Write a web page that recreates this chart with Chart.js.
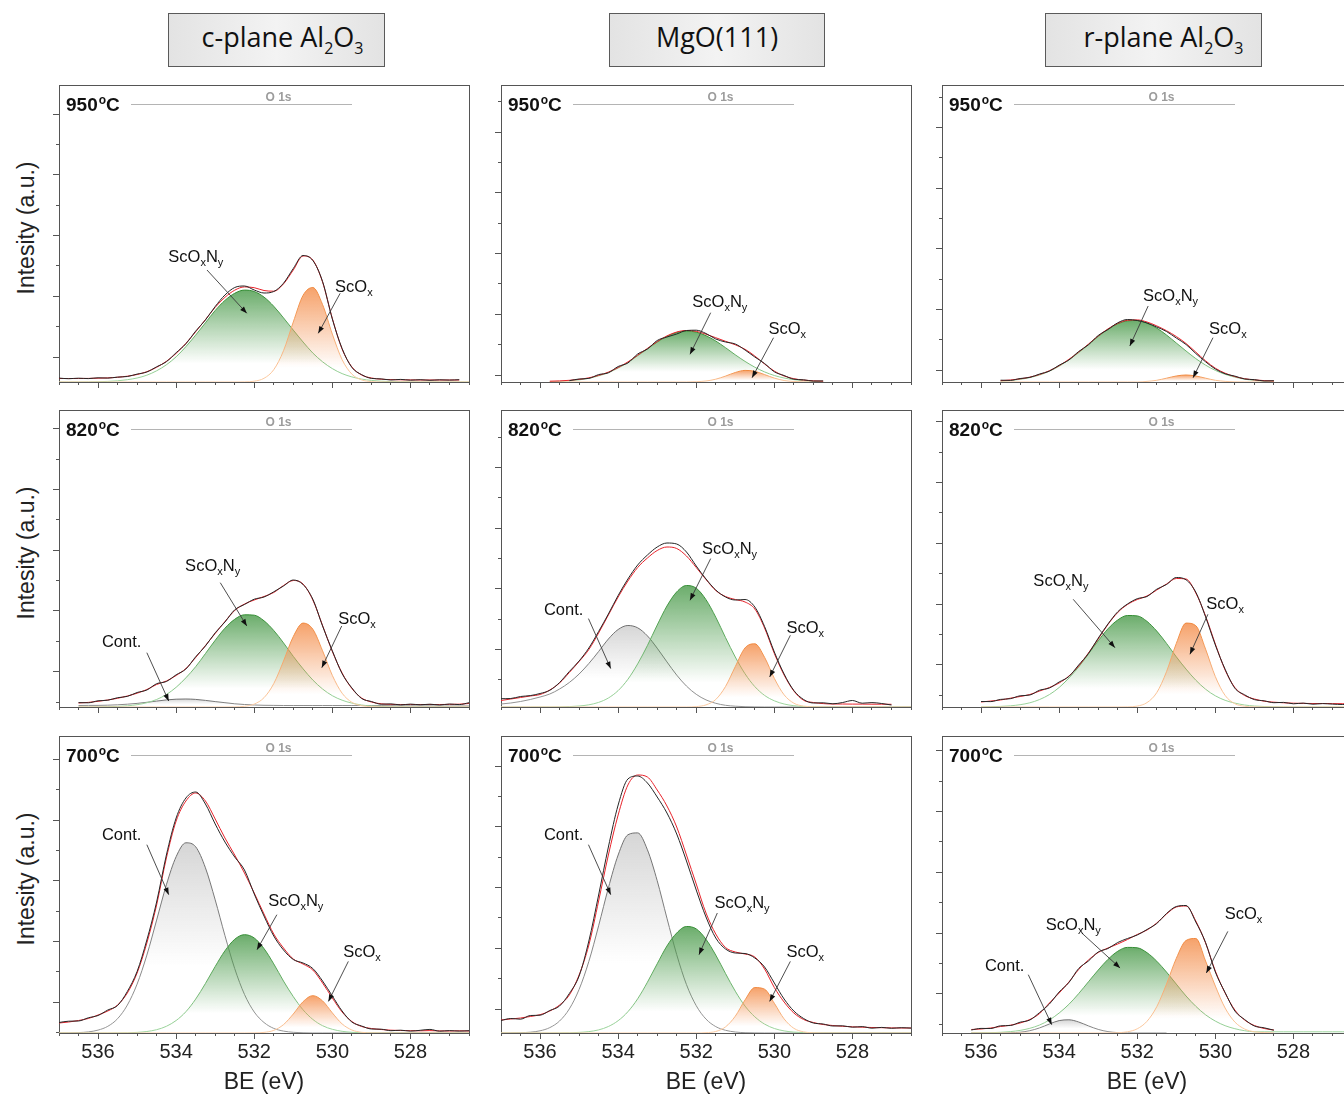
<!DOCTYPE html>
<html><head><meta charset="utf-8">
<script src="https://cdn.jsdelivr.net/npm/chart.js@4.4.1/dist/chart.umd.min.js"></script>
<style>
html,body{margin:0;padding:0;background:#fff;}
body{width:1344px;height:1094px;overflow:hidden;position:relative;font-family:"Liberation Sans",Arial,sans-serif;color:#111;}
.hdr{position:absolute;top:13px;height:54px;border:1px solid #5a5a5a;box-sizing:border-box;background:linear-gradient(90deg,#e3e3e3,#f3f3f3 50%,#e3e3e3);font-family:"Open Sans",sans-serif;font-size:27px;color:#111;white-space:nowrap;}
.hdr span.t{position:absolute;top:4px;}
.hdr sub{font-size:16px;vertical-align:-7px;line-height:0;}
.ytitle{position:absolute;font-size:23px;color:#222;white-space:nowrap;transform:translate(-50%,-50%) rotate(-90deg);}
.xtitle{position:absolute;font-size:23px;color:#222;white-space:nowrap;transform:translate(-50%,-50%);}
.temp{position:absolute;font-weight:bold;font-size:19px;line-height:19px;color:#111;white-space:nowrap;}
.temp .o{font-size:12px;position:relative;top:-7px;margin-left:1px;}
.o1s{position:absolute;height:0;border-top:1px solid #b4b4b4;}
.o1slab{position:absolute;font-weight:bold;font-size:12px;line-height:12px;color:#9c9c9c;transform:translateX(-50%);white-space:nowrap;}
canvas{position:absolute;}
</style>
</head><body>
<script>
// ---------- shared binding-energy grid (eV) ----------
const BE = [537,536.75,536.5,536.25,536,535.75,535.5,535.25,535,534.75,534.5,534.25,534,533.75,533.5,533.25,533,532.75,532.5,532.25,532,531.75,531.5,531.25,531,530.75,530.5,530.25,530,529.75,529.5,529.25,529,528.75,528.5,528.25,528,527.75,527.5,527.25,527,526.75,526.5];
const _ = null;
const xMajorTicks = [536,534,532,530,528];
const xMinorTicks = [537,536.5,536,535.5,535,534.5,534,533.5,533,532.5,532,531.5,531,530.5,530,529.5,529,528.5,528,527.5,527,526.5];
const columnTitles = ['c-plane Al<sub>2</sub>O<sub>3</sub>','MgO(111)','r-plane Al<sub>2</sub>O<sub>3</sub>'];
const temperatures = ['950','820','700'];

// ---------- c-plane Al2O3, 950 C ----------
const cPlane950_exp = [3.9,3.3,3.8,3.4,4.2,3.9,4.9,5.5,7.9,10.0,15.2,20.3,29.3,38.2,50.9,62.0,75.5,87.0,94.5,96.0,92.0,89.0,90.5,98.8,113.5,126.5,121.5,100.5,63.0,33.5,14.6,7.4,3.6,3.1,2.0,2.6,1.8,2.3,1.7,2.2,1.9,2.3,_];
const cPlane950_fit = [3.5,3.5,3.5,3.6,3.8,4.1,4.7,5.8,7.5,10.3,14.7,20.7,28.6,38.7,50.2,62.4,74.7,84.7,91.8,95.1,94.3,91.5,90.8,98.1,112.0,126.0,122.0,99.9,63.5,32.9,15.1,7.0,4.0,2.8,2.4,2.2,2.1,2.0,2.0,2.0,2.0,2.0,_];
const cPlane950_ScOxNy = [0,0,0,0.1,0.3,0.6,1.2,2.3,4.0,6.8,11.2,17.2,25.2,35.4,46.9,59.2,71.5,81.6,88.7,91.9,90.5,84.9,75.7,64.1,51.9,40.0,29.0,20.2,13.4,8.4,5.1,2.9,1.6,0.8,0.4,0.2,0.1,0,0,0,0,0,0];
const cPlane950_ScOx = [0,0,0,0,0,0,0,0,0,0,0,0,0,0,0,0,0,0,0,0.1,0.8,3.7,12.3,31.3,60.0,86.6,94.5,77.4,47.9,22.4,7.9,2.1,0.4,0,0,0,0,0,0,0,0,0,0];

// ---------- MgO(111), 950 C ----------
const mgo950_exp = [_,_,_,_,_,_,_,1.3,3.0,3.6,7.4,9.2,15.5,19.0,28.0,33.0,41.5,45.0,48.0,51.5,51.8,48.5,43.0,40.0,38.0,32.0,25.0,18.5,10.2,6.5,2.8,2.2,0.9,1.1,_,_,_,_,_,_,_,_,_];
const mgo950_fit = [_,_,_,_,_,0.8,1.1,1.7,2.6,4.2,6.6,9.9,14.5,20.1,26.8,33.6,40.4,46.1,50.0,51.5,50.7,47.8,44.3,40.7,37.2,32.7,26.0,18.0,10.9,6.0,3.3,1.9,1.2,0.8,_,_,_,_,_,_,_,_,_];
const mgo950_ScOxNy = [_,_,_,_,_,0.3,0.6,1.2,2.1,3.7,6.1,9.4,14.0,19.6,26.3,33.1,39.9,45.6,49.5,51.0,49.9,46.3,41.0,34.3,27.2,20.6,14.8,10.1,6.5,4.0,2.3,1.3,0.7,0.3,_,_,_,_,_,_,_,_,_];
const mgo950_ScOx = [_,_,_,_,_,0,0,0,0,0,0,0,0,0,0,0,0,0,0,0,0.3,1.0,2.8,5.9,9.5,11.6,10.7,7.4,3.9,1.5,0.5,0.1,0,0,_,_,_,_,_,_,_,_,_];

// ---------- r-plane Al2O3, 950 C ----------
const rPlane950_exp = [_,_,_,_,_,_,1.8,1.6,3.5,4.6,8.0,10.9,16.8,22.0,30.5,37.2,46.5,52.5,59.2,62.5,61.5,59.0,55.0,50.5,44.0,37.5,28.5,20.2,13.0,8.2,5.9,3.0,2.4,1.0,1.3,_,_,_,_,_,_,_,_];
const rPlane950_fit = [_,_,_,_,_,_,1.3,2.0,3.1,4.9,7.5,11.3,16.3,22.7,29.9,37.9,46.0,53.1,58.6,61.7,62.1,60.0,56.1,51.3,45.5,38.5,29.9,21.2,13.8,8.8,5.4,3.3,2.1,1.4,1.0,_,_,_,_,_,_,_,_];
const rPlane950_ScOxNy = [_,_,_,_,_,_,0.8,1.5,2.6,4.4,7.0,10.8,15.8,22.2,29.4,37.4,45.5,52.6,58.1,61.2,61.5,58.9,53.9,47.0,39.0,31.0,23.4,16.9,11.6,7.7,4.8,2.8,1.6,0.9,0.5,_,_,_,_,_,_,_,_];
const rPlane950_ScOx = [_,_,_,_,_,_,0,0,0,0,0,0,0,0,0,0,0,0,0,0,0,0.6,1.7,3.8,6.0,7.0,6.0,3.8,1.7,0.6,0.1,0,0,0,0,_,_,_,_,_,_,_,_];

// ---------- c-plane Al2O3, 820 C ----------
const cPlane820_exp = [_,_,4.4,4.2,6.2,6.8,9.3,10.6,14.5,17.0,23.3,25.5,32.2,38.0,50.2,61.0,74.2,85.0,97.2,102.5,107.8,110.0,115.2,121.0,127.0,122.5,107.8,81.0,56.2,33.4,19.1,8.5,5.5,2.8,3.1,2.1,2.9,2.2,2.8,2.0,3.0,2.4,4.3];
const cPlane820_fit = [_,_,4.0,4.6,5.7,7.0,8.7,11.0,13.8,17.5,22.5,26.0,31.5,38.5,49.5,61.5,73.5,85.5,96.5,103.0,107.0,110.5,114.5,121.5,126.5,123.0,107.0,81.5,55.5,34.0,18.5,9.0,5.0,3.2,2.6,2.5,2.5,2.5,2.5,2.5,2.6,2.8,3.5];
const cPlane820_ScOxNy = [_,_,0,0,0.1,0.3,0.6,1.2,2.3,4.3,7.5,12.5,19.7,29.2,40.3,53.4,66.7,78.8,87.7,92.2,91.8,86.2,76.5,64.1,50.6,38.2,27.0,18.0,11.3,6.8,3.9,2.0,1.0,0.5,0.2,0.1,0,0,0,0,0,0,0];
const cPlane820_ScOx = [_,_,0,0,0,0,0,0,0,0,0,0,0,0,0,0,0,0,0.1,0.7,2.9,9.3,23.4,46.0,70.4,83.9,77.8,56.2,31.6,13.8,4.7,1.3,0.3,0,0,0,0,0,0,0,0,0,0];
const cPlane820_Cont = [_,_,1.5,1.6,1.6,1.8,2.2,2.8,3.6,4.7,5.9,7.1,7.8,8.0,7.6,6.6,5.4,4.3,3.2,2.5,2.0,1.7,1.6,1.5,1.5,1.5,1.5,1.5,1.5,1.5,1.5,1.5,1.5,1.4,1.3,1.2,1.2,1.1,1.1,1.0,1.0,1.0,1.0];

// ---------- MgO(111), 820 C ----------
const mgo820_exp = [8.3,8.5,10.5,11.4,13.5,16.7,24.5,35.5,46.0,59.0,75.5,93.0,111.5,128.0,142.0,152.0,160.0,164.0,163.0,155.0,141.0,128.0,117.0,110.0,107.0,107.5,100.0,80.5,55.0,33.0,16.5,7.5,4.0,4.2,3.2,4.5,6.5,3.8,4.4,3.5,2.0,_,_];
const mgo820_fit = [6.5,8.0,9.5,11.0,12.5,17.0,24.0,34.5,45.5,57.5,74.0,92.0,110.0,126.0,139.5,149.0,156.5,160.0,158.5,151.0,139.5,127.5,116.5,110.5,107.5,105.0,98.0,79.0,53.5,32.0,16.0,6.7,4.5,3.4,3.0,3.0,2.9,2.9,2.8,2.8,2.7,_,_];
const mgo820_Cont = [3.0,4.0,5.5,7.5,10.0,13.0,18.0,24.5,33.0,43.5,55.5,68.0,77.5,81.5,79.2,71.1,58.8,45.1,31.9,20.9,12.7,7.1,3.7,1.7,0.8,0.3,0.1,0,0,0,0,0,0,0,0,0,0,0,0,0,0,0,0];
const mgo820_ScOxNy = [0,0,0,0,0,0,0.1,0.4,1.0,2.2,4.6,9.0,16.4,27.7,43.1,61.5,81.9,101.0,115.1,121.5,118.8,107.3,89.8,69.4,50.0,33.2,20.4,11.6,6.2,3.0,1.3,0.5,0.2,0,0,0,0,0,0,0,0,0,0];
const mgo820_ScOx = [0,0,0,0,0,0,0,0,0,0,0,0,0,0,0,0,0,0,0,0,0.4,2.1,7.5,20.5,40.4,59.1,63.2,49.7,28.6,12.2,3.8,0.9,0.2,0,0,0,0,0,0,0,0,0,0];

// ---------- r-plane Al2O3, 820 C ----------
const rPlane820_exp = [_,_,_,_,5.5,5.4,7.6,8.3,11.2,12.0,16.8,19.0,25.0,30.5,42.0,53.5,68.8,83.0,95.2,103.0,108.3,110.5,117.8,122.5,129.5,127.2,114.8,90.2,62.0,37.8,18.8,12.2,7.4,6.2,4.3,4.6,3.2,3.9,2.8,3.4,2.9,2.5,2.6];
const rPlane820_fit = [_,_,_,_,5.0,6.0,7.0,8.8,10.5,12.5,16.0,19.5,24.0,31.0,41.0,54.0,68.0,82.5,94.5,102.5,107.5,111.0,117.0,123.0,128.5,128.0,114.0,91.0,63.0,37.0,19.5,11.5,8.0,5.8,4.8,4.2,3.8,3.6,3.5,3.5,3.4,3.3,3.3];
const rPlane820_ScOxNy = [_,_,_,_,0.1,0.3,0.6,1.2,2.3,4.2,7.5,12.4,19.5,29.0,40.0,53.0,66.2,78.2,87.0,91.5,91.1,85.6,75.9,63.6,50.2,37.9,26.8,17.8,11.2,6.7,3.9,2.0,1.0,0.5,0.2,0.1,0,0,0,0,0,0,0];
const rPlane820_ScOx = [_,_,_,_,0,0,0,0,0,0,0,0,0,0,0,0,0,0,0,0.1,0.9,4.4,14.4,35.3,63.5,83.9,81.3,57.9,30.4,11.6,3.3,0.7,0.1,0,0,0,0,0,0,0,0,0,0];

// ---------- c-plane Al2O3, 700 C ----------
const cPlane700_exp = [10.5,11.8,12.0,15.2,17.5,23.0,27.5,41.5,61.5,93.0,131.0,178.0,215.0,235.0,241.0,229.0,209.0,191.0,176.0,163.0,139.0,117.0,97.0,83.0,73.5,70.0,64.5,52.0,37.0,22.0,11.0,7.0,4.0,3.8,2.3,2.8,1.9,2.7,3.6,1.8,2.4,1.9,2.3];
const cPlane700_fit = [10.0,11.0,12.5,14.5,18.0,22.0,28.0,40.0,60.0,90.0,128.0,175.0,212.0,232.0,240.0,232.0,214.0,195.0,178.0,160.0,140.0,119.0,99.0,85.0,74.0,69.0,63.0,50.0,35.0,21.0,11.5,6.5,4.5,3.5,2.8,2.5,2.3,2.2,2.4,2.1,2.0,2.2,2.0];
const cPlane700_Cont = [0,0.1,0.4,1.1,2.9,6.7,14.3,27.9,48.9,77.9,112.9,148.2,176.3,190.2,186.2,165.2,133.1,97.4,64.4,38.6,21.0,10.5,4.6,1.9,0.7,0.2,0,0,0,0,0,0,0,0,0,0,0,0,0,0,0,0,0];
const cPlane700_ScOxNy = [0,0,0,0,0,0,0.1,0.2,0.6,1.5,3.3,6.7,12.5,21.3,33.9,49.5,66.5,82.2,93.7,98.3,95.0,84.4,69.1,51.9,36.4,23.2,13.6,7.3,3.7,1.7,0.7,0.3,0.1,0,0,0,0,0,0,0,0,0,0];
const cPlane700_ScOx = [0,0,0,0,0,0,0,0,0,0,0,0,0,0,0,0,0,0,0,0,0.1,0.6,2.6,8.4,19.0,31.3,37.3,32.1,20.1,9.1,3.0,0.7,0.1,0,0,0,0,0,0,0,0,0,0];

// ---------- MgO(111), 700 C ----------
const mgo700_exp = [12.5,14.5,13.8,17.5,17.8,22.5,27.0,39.5,57.0,92.0,138.0,186.0,228.0,254.0,257.0,250.0,236.0,220.0,199.0,172.0,143.0,116.0,95.0,84.0,80.0,79.5,75.0,66.0,50.0,34.0,22.0,14.5,10.0,9.0,7.0,7.2,5.8,6.4,4.8,5.6,4.7,5.3,4.9];
const mgo700_fit = [13.0,14.0,15.0,16.5,18.3,22.0,28.0,38.0,58.0,88.0,132.0,178.0,218.0,248.0,258.0,256.0,243.0,227.0,206.0,178.0,149.0,120.0,99.0,85.5,81.0,79.0,76.0,64.0,45.5,31.0,20.0,13.5,10.5,8.5,7.5,6.7,6.2,5.8,5.5,5.3,5.1,5.0,5.0];
const mgo700_Cont = [0,0.1,0.3,0.8,2.2,5.4,12.0,24.1,43.6,71.6,107.2,145.1,178.0,198.2,200.1,183.2,152.3,114.8,78.4,48.4,27.3,13.9,6.4,2.7,1.0,0.3,0.1,0,0,0,0,0,0,0,0,0,0,0,0,0,0,0,0];
const mgo700_ScOxNy = [0,0,0,0,0,0,0.1,0.2,0.6,1.4,3.1,6.5,12.3,21.3,34.2,50.8,69.2,87.0,100.0,106.5,104.1,93.7,77.9,59.5,41.8,26.9,16.2,8.9,4.5,2.1,0.9,0.4,0.1,0,0,0,0,0,0,0,0,0,0];
const mgo700_ScOx = [0,0,0,0,0,0,0,0,0,0,0,0,0,0,0,0,0,0,0,0,0,0.3,1.5,6.1,16.8,33.1,45.4,43.8,29.7,14.1,4.7,1.1,0.2,0,0,0,0,0,0,0,0,0,0];

// ---------- r-plane Al2O3, 700 C ----------
const rPlane700_exp = [_,_,_,3.0,4.6,4.5,7.2,7.5,10.8,13.0,20.5,29.0,41.0,50.5,64.5,72.0,81.0,84.5,90.5,94.5,98.0,103.5,109.5,119.5,126.5,127.5,111.0,90.5,61.0,40.5,22.0,13.5,7.0,5.2,2.8,_,_,_,_,_,_,_,_];
const rPlane700_fit = [_,_,_,3.5,4.0,5.0,6.5,7.8,10.0,13.5,19.5,30.0,40.0,51.0,63.5,73.0,80.5,85.0,89.0,93.5,98.5,103.0,110.0,119.0,126.0,127.0,112.0,90.0,62.0,40.0,23.0,13.0,7.5,4.5,3.0,_,_,_,_,_,_,_,_];
const rPlane700_Cont = [_,_,_,0,0,0,0,0.2,0.8,2.3,5.1,9.0,12.4,13.2,11.0,7.1,3.6,1.4,0.4,0.1,0,0,0,0,_,_,_,_,_,_,_,_,_,_,_,_,_,_,_,_,_,_,_];
const rPlane700_ScOxNy = [_,_,_,0.1,0.2,0.3,0.7,1.4,2.6,4.7,8.0,13.0,20.0,28.7,39.4,51.2,62.9,73.6,81.7,85.6,85.2,80.3,71.8,60.9,48.9,37.0,26.7,18.2,11.9,7.3,4.3,2.3,1.2,1.2,1.2,1.2,1.2,1.2,1.2,1.2,1.2,1.2,1.2];
const rPlane700_ScOx = [_,_,_,0,0,0,0,0,0,0,0,0,0,0,0,0,0,0,0.3,1.2,4.2,11.7,26.3,49.0,74.6,92.5,94.5,72.0,47.0,25.0,11.0,4.0,1.2,0.4,0.1,_,_,_,_,_,_,_,_];

// ---------- peak labels: text anchor, arrow start, arrow tip (BE eV, intensity) ----------
const cPlane950_notes = [{t:'ScOxNy',at:[534.2,120],from:[533.21,112],to:[532.19,68.7]},{t:'ScOx',at:[529.93,90],from:[529.8,88.7],to:[530.36,48.7]}];
const mgo950_notes = [{t:'ScOxNy',at:[532.1,75],from:[531.63,69.3],to:[532.16,27.7]},{t:'ScOx',at:[530.15,48],from:[530.02,44.3],to:[530.57,4.3]}];
const rPlane950_notes = [{t:'ScOxNy',at:[531.85,81],from:[531.72,76],to:[532.19,36]},{t:'ScOx',at:[530.16,47.7],from:[530.06,44.3],to:[530.57,4.3]}];
const cPlane820_notes = [{t:'ScOxNy',at:[533.77,136],from:[532.87,124.3],to:[532.19,81]},{t:'ScOx',at:[529.85,82.7],from:[529.76,81],to:[530.27,39.3]},{t:'Cont.',at:[535.9,60],from:[534.75,54.3],to:[534.19,6]}];
const mgo820_notes = [{t:'ScOxNy',at:[531.85,152.7],from:[531.63,148.4],to:[532.16,106.7]},{t:'ScOx',at:[529.69,74.4],from:[529.59,71.7],to:[530.12,30]},{t:'Cont.',at:[535.9,91.7],from:[534.76,88.4],to:[534.19,38.4]}];
const rPlane820_notes = [{t:'ScOxNy',at:[534.66,121],from:[533.64,107.7],to:[532.57,59.3]},{t:'ScOx',at:[530.23,97.7],from:[530.19,92.7],to:[530.65,52.7]}];
const cPlane700_notes = [{t:'Cont.',at:[535.9,193.3],from:[534.75,188.3],to:[534.19,138.3]},{t:'ScOxNy',at:[531.64,126.6],from:[531.42,118.3],to:[531.93,83.3]},{t:'ScOx',at:[529.72,76],from:[529.59,71.6],to:[530.1,31.6]}];
const mgo700_notes = [{t:'Cont.',at:[535.9,193.3],from:[534.76,188.3],to:[534.19,138.3]},{t:'ScOxNy',at:[531.53,125],from:[531.46,120],to:[531.93,78.3]},{t:'ScOx',at:[529.69,76],from:[529.59,71.6],to:[530.12,31.6]}];
const rPlane700_notes = [{t:'Cont.',at:[535.9,61.6],from:[534.79,58.3],to:[534.19,8.3]},{t:'ScOxNy',at:[534.34,103.3],from:[533.42,100],to:[532.44,65]},{t:'ScOx',at:[529.76,114.3],from:[529.68,101.6],to:[530.23,60]}];

// ---------- panel table ----------
const PANELS = [
 {col:0,row:0,exp:cPlane950_exp,fit:cPlane950_fit,comps:{ScOx:cPlane950_ScOx,ScOxNy:cPlane950_ScOxNy},notes:cPlane950_notes,yStart:25},
 {col:1,row:0,exp:mgo950_exp,fit:mgo950_fit,comps:{ScOx:mgo950_ScOx,ScOxNy:mgo950_ScOxNy},notes:mgo950_notes,yStart:7},
 {col:2,row:0,exp:rPlane950_exp,fit:rPlane950_fit,comps:{ScOx:rPlane950_ScOx,ScOxNy:rPlane950_ScOxNy},notes:rPlane950_notes,yStart:11.7},
 {col:0,row:1,exp:cPlane820_exp,fit:cPlane820_fit,comps:{ScOx:cPlane820_ScOx,ScOxNy:cPlane820_ScOxNy,Cont:cPlane820_Cont},notes:cPlane820_notes,yStart:35.3},
 {col:1,row:1,exp:mgo820_exp,fit:mgo820_fit,comps:{ScOx:mgo820_ScOx,ScOxNy:mgo820_ScOxNy,Cont:mgo820_Cont},notes:mgo820_notes,yStart:57.4},
 {col:2,row:1,exp:rPlane820_exp,fit:rPlane820_fit,comps:{ScOx:rPlane820_ScOx,ScOxNy:rPlane820_ScOxNy},notes:rPlane820_notes,yStart:42.3},
 {col:0,row:2,exp:cPlane700_exp,fit:cPlane700_fit,comps:{ScOx:cPlane700_ScOx,ScOxNy:cPlane700_ScOxNy,Cont:cPlane700_Cont},notes:cPlane700_notes,yStart:30.7},
 {col:1,row:2,exp:mgo700_exp,fit:mgo700_fit,comps:{ScOx:mgo700_ScOx,ScOxNy:mgo700_ScOxNy,Cont:mgo700_Cont},notes:mgo700_notes,yStart:24},
 {col:2,row:2,exp:rPlane700_exp,fit:rPlane700_fit,comps:{ScOx:rPlane700_ScOx,ScOxNy:rPlane700_ScOxNy,Cont:rPlane700_Cont},notes:rPlane700_notes,yStart:39.3},
];

// ---------- layout / style ----------
const COL_LEFT=[59,501,942], ROW_TOP=[85,410,736], PW=410, PH=297, PADL=10, PADT=2, PADR=2;
const Y_MAJOR=60.7, Y_MINOR=30.35;
const AX='#555';
const STYLE = {
  ScOx:  {lineTop:'240,135,60', lineBot:'252,205,165', fill:'244,145,80', a:0.85, fade:0.85},
  ScOxNy:{lineTop:'50,140,50',  lineBot:'160,215,160', fill:'75,155,75',  a:0.82, fade:0.8},
  Cont:  {lineTop:'110,110,110',lineBot:'150,150,150', fill:'200,200,200',a:0.75, fade:0.65}
};
const LABEL_PARTS = {ScOxNy:[['ScO',0],['x',1],['N',0],['y',1]], ScOx:[['ScO',0],['x',1]], 'Cont.':[['Cont.',0]]};
Chart.defaults.font.family = '"Liberation Sans", Arial, sans-serif';
Chart.defaults.animation = false;

function pts(arr){ return BE.map((x,i)=>({x:x, y:arr[i]})); }
function peakSpan(ctx){
  const ch=ctx.chart, area=ch.chartArea;
  if(!area) return null;
  const ds=ch.data.datasets[ctx.datasetIndex];
  let mx=0; ds.data.forEach(p=>{ if(p.y!=null && p.y>mx) mx=p.y; });
  const top=ch.scales.y.getPixelForValue(mx), bot=ch.scales.y.getPixelForValue(0);
  if(!(bot>top+1)) return null;
  return {ch,top,bot};
}
function gradFill(s){
  return (ctx)=>{
    const k=peakSpan(ctx); if(!k) return 'rgba('+s.fill+',0)';
    const g=k.ch.ctx.createLinearGradient(0,k.top,0,k.bot);
    g.addColorStop(0,'rgba('+s.fill+','+s.a+')');
    g.addColorStop(s.fade,'rgba('+s.fill+',0)');
    g.addColorStop(1,'rgba('+s.fill+',0)');
    return g;
  };
}
function gradLine(s){
  return (ctx)=>{
    const k=peakSpan(ctx); if(!k) return 'rgb('+s.lineBot+')';
    const g=k.ch.ctx.createLinearGradient(0,k.top,0,k.bot);
    g.addColorStop(0,'rgb('+s.lineTop+')');
    g.addColorStop(1,'rgb('+s.lineBot+')');
    return g;
  };
}
const notePlugin = {
  id:'notes',
  afterDatasetsDraw(chart){
    const items=chart.options.plugins.notes.items||[];
    const xs=chart.scales.x, ys=chart.scales.y, c=chart.ctx;
    c.save();
    for(const n of items){
      const x1=xs.getPixelForValue(n.from[0]), y1=ys.getPixelForValue(n.from[1]);
      const x2=xs.getPixelForValue(n.to[0]), y2=ys.getPixelForValue(n.to[1]);
      c.strokeStyle='#3a3a3a'; c.lineWidth=0.9;
      c.beginPath(); c.moveTo(x1,y1); c.lineTo(x2,y2); c.stroke();
      const ang=Math.atan2(y2-y1,x2-x1), L=7, W=2.6;
      c.fillStyle='#111';
      c.beginPath(); c.moveTo(x2,y2);
      c.lineTo(x2-L*Math.cos(ang)+W*Math.sin(ang), y2-L*Math.sin(ang)-W*Math.cos(ang));
      c.lineTo(x2-L*Math.cos(ang)-W*Math.sin(ang), y2-L*Math.sin(ang)+W*Math.cos(ang));
      c.closePath(); c.fill();
      let x=xs.getPixelForValue(n.at[0]); const y=ys.getPixelForValue(n.at[1]);
      c.textBaseline='alphabetic'; c.textAlign='left'; c.fillStyle='#111';
      for(const [t,sub] of LABEL_PARTS[n.t]){
        c.font = sub ? '11px "Liberation Sans", Arial' : '16.5px "Liberation Sans", Arial';
        c.fillText(t, x, y+(sub?4:0));
        x += c.measureText(t).width;
      }
    }
    c.restore();
  }
};

function makePanel(p){
  const bottomRow = p.row===2;
  const B = bottomRow ? 36 : 8;
  const W = PADL+PW+PADR, H = PADT+PH+B;
  const cv=document.createElement('canvas');
  cv.width=W; cv.height=H;
  cv.style.left=(COL_LEFT[p.col]-PADL)+'px'; cv.style.top=(ROW_TOP[p.row]-PADT)+'px';
  cv.style.width=W+'px'; cv.style.height=H+'px';
  document.body.appendChild(cv);

  const datasets=[
    {data:pts(p.exp),borderColor:'#262626',borderWidth:1,fill:false},
    {data:pts(p.fit),borderColor:'#e8222a',borderWidth:1,fill:false},
  ];
  for(const k of ['ScOx','ScOxNy','Cont']){
    if(!p.comps[k]) continue;
    const s=STYLE[k];
    datasets.push({data:pts(p.comps[k]),borderColor:gradLine(s),borderWidth:1,fill:'origin',backgroundColor:gradFill(s)});
  }
  datasets.forEach(d=>{ d.xAxisID='x'; d.yAxisID='y'; d.pointRadius=0; d.cubicInterpolationMode='monotone'; d.spanGaps=false; });

  const yMaj=[], yMin=[];
  for(let v=p.yStart; v<=PH+0.01; v+=Y_MAJOR) yMaj.push({value:v});
  for(let v=p.yStart%Y_MINOR; v<=PH+0.01; v+=Y_MINOR) yMin.push({value:v});

  const xBase={type:'linear',min:526.5,max:537,reverse:true};
  const yBase={type:'linear',min:0,max:PH};
  new Chart(cv,{
    type:'line',
    data:{datasets},
    options:{
      responsive:false, animation:false, devicePixelRatio:1,
      layout:{padding:{left:0,top:PADT,right:PADR,bottom:0}},
      plugins:{legend:{display:false},tooltip:{enabled:false},notes:{items:p.notes}},
      scales:{
        xMinor:Object.assign({},xBase,{position:'bottom',weight:0,
          afterBuildTicks:s=>{s.ticks=xMinorTicks.map(v=>({value:v}));}, afterFit:s=>{s.height=0;},
          ticks:{display:false}, grid:{drawOnChartArea:false,drawTicks:true,tickLength:3,tickColor:AX}, border:{display:false}}),
        x:Object.assign({},xBase,{position:'bottom',weight:1,
          afterBuildTicks:s=>{s.ticks=xMajorTicks.map(v=>({value:v}));}, afterFit:s=>{s.height=B;},
          ticks:{display:bottomRow,autoSkip:false,maxRotation:0,padding:1,color:'#222',font:{size:20},callback:v=>String(v)},
          grid:{drawOnChartArea:false,drawTicks:true,tickLength:6,tickColor:AX}, border:{color:AX,width:1}}),
        xTop:Object.assign({},xBase,{position:'top',afterFit:s=>{s.height=0;},
          ticks:{display:false}, grid:{drawOnChartArea:false,drawTicks:false}, border:{color:AX,width:1}}),
        yMinor:Object.assign({},yBase,{position:'left',weight:0,
          afterBuildTicks:s=>{s.ticks=yMin.slice();}, afterFit:s=>{s.width=0;},
          ticks:{display:false}, grid:{drawOnChartArea:false,drawTicks:true,tickLength:3,tickColor:AX}, border:{display:false}}),
        y:Object.assign({},yBase,{position:'left',weight:1,
          afterBuildTicks:s=>{s.ticks=yMaj.slice();}, afterFit:s=>{s.width=PADL;},
          ticks:{display:false}, grid:{drawOnChartArea:false,drawTicks:true,tickLength:6,tickColor:AX}, border:{color:AX,width:1}}),
        yRight:Object.assign({},yBase,{position:'right',afterFit:s=>{s.width=0;},
          ticks:{display:false}, grid:{drawOnChartArea:false,drawTicks:false}, border:{color:AX,width:1}})
      }
    },
    plugins:[notePlugin]
  });

  // temperature label and "O 1s" marker
  const L=COL_LEFT[p.col], T=ROW_TOP[p.row];
  const tl=document.createElement('div'); tl.className='temp';
  tl.style.left=(L+7)+'px'; tl.style.top=(T+10)+'px';
  tl.innerHTML=temperatures[p.row]+'<span class="o">o</span>C';
  document.body.appendChild(tl);
  const ln=document.createElement('div'); ln.className='o1s';
  ln.style.left=(L+72)+'px'; ln.style.top=(T+19)+'px'; ln.style.width='221px';
  document.body.appendChild(ln);
  const ol=document.createElement('div'); ol.className='o1slab';
  ol.style.left=(L+219.5)+'px'; ol.style.top=(T+6)+'px'; ol.textContent='O 1s';
  document.body.appendChild(ol);
}
PANELS.forEach(makePanel);

// column headers
const HDR=[{left:168,w:217,dx:6},{left:609,w:216,dx:0},{left:1045,w:217,dx:10}];
HDR.forEach((h,i)=>{
  const d=document.createElement('div'); d.className='hdr';
  d.style.left=h.left+'px'; d.style.width=h.w+'px';
  const t=document.createElement('span'); t.className='t';
  t.innerHTML=columnTitles[i];
  d.appendChild(t); document.body.appendChild(d);
  const tw=t.getBoundingClientRect().width;
  t.style.left=((h.w-2-tw)/2+h.dx)+'px';
});
// axis titles
ROW_TOP.forEach(T=>{
  const d=document.createElement('div'); d.className='ytitle';
  d.style.left='26px'; d.style.top=(T+142.5)+'px'; d.textContent='Intesity (a.u.)';
  document.body.appendChild(d);
});
COL_LEFT.forEach(L=>{
  const d=document.createElement('div'); d.className='xtitle';
  d.style.left=(L+205)+'px'; d.style.top='1081px'; d.textContent='BE (eV)';
  document.body.appendChild(d);
});
</script>
</body></html>
